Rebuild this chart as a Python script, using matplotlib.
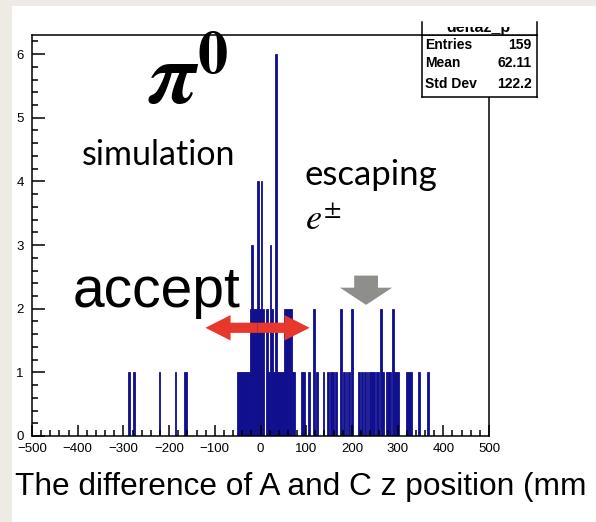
import matplotlib
matplotlib.use("Agg")
import matplotlib.pyplot as plt
from matplotlib.patches import FancyArrow, Rectangle
from matplotlib.ticker import MultipleLocator
from matplotlib.transforms import Bbox

# histogram of z(A) - z(C), bin centres in mm and counts
bin_z = [-287, -276, -221, -186, -166, -162,
         -50, -46, -42, -38, -34, -30, -26, -22, -18, -14, -10, -6, -2, 2, 6,
         14, 18, 22, 26, 30, 34, 38, 42, 46, 50, 54, 58, 62, 66, 70, 74,
         90, 96, 106, 117, 124, 138, 148, 155, 158, 165, 176, 183, 188, 193,
         200, 216, 222, 229, 234, 239, 244, 248, 254, 258, 263, 268, 276, 280,
         284, 290, 294, 298, 302, 320, 325, 330, 347, 366]
bin_n = [1, 1, 1, 1, 1, 1,
         1, 1, 1, 1, 1, 1, 1, 2, 3, 2, 2, 4, 2, 4, 2,
         2, 1, 3, 2, 1, 6, 1, 1, 1, 1, 2, 2, 2, 2, 1, 1,
         1, 1, 1, 2, 1, 1, 1, 1, 1, 1, 2, 1, 1, 1,
         2, 1, 1, 1, 1, 1, 1, 1, 1, 1, 2, 1, 1, 1,
         1, 2, 1, 1, 1, 1, 1, 1, 1, 1]
bin_width = 4

stat_names = ["Entries", "Mean", "Std Dev"]
stat_values = ["159", "62.11", "122.2"]
hist_name = "deltaz_p"

W, H = 596, 522
def fx(x):
    return x / W
def fy(y):
    return 1 - y / H

beige = "#eeebe4"
navy = "#10108f"

fig = plt.figure(figsize=(W / 100, H / 100), dpi=100, facecolor=beige)
fig.patches.append(Rectangle((fx(12), 0), 1 - fx(12), fy(6), transform=fig.transFigure,
                             facecolor="white", edgecolor="none", zorder=-1))

ax = fig.add_axes([fx(32), fy(436), fx(489) - fx(32), fy(35) - fy(436)])
ax.bar(bin_z, bin_n, width=bin_width, color=navy, edgecolor=navy, linewidth=0.6)
ax.set_xlim(-500, 500)
ax.set_ylim(0, 6.3)
ax.xaxis.set_major_locator(MultipleLocator(100))
ax.xaxis.set_minor_locator(MultipleLocator(20))
ax.yaxis.set_major_locator(MultipleLocator(1))
ax.yaxis.set_minor_locator(MultipleLocator(0.2))
ax.tick_params(which="both", direction="in", top=False, right=False, width=1.1,
               labelsize=9.5, labelfontfamily="Liberation Sans")
ax.tick_params(axis="x", which="major", length=8, pad=5)
ax.tick_params(axis="x", which="minor", length=4)
ax.tick_params(axis="y", which="major", length=9, pad=6)
ax.tick_params(axis="y", which="minor", length=4.5)
for s in ax.spines.values():
    s.set_linewidth(1.1)

# accept range (red double arrow) and escaping marker (grey arrow)
red = "#e8382b"
for dx in (-114, 114):
    ax.add_patch(FancyArrow(-6.5, 1.70, dx, 0, width=0.16, head_width=0.40,
                            head_length=55, length_includes_head=True,
                            color=red, linewidth=0, zorder=5))
ax.add_patch(FancyArrow(231, 2.52, 0, -0.46, width=52, head_width=114,
                        head_length=0.27, length_includes_head=True,
                        color="#8e8e8a", linewidth=0, zorder=5))

# stats box
sbox = fig.add_axes([fx(422), fy(97), fx(537) - fx(422), fy(35) - fy(97)], facecolor="white")
sbox.set_xticks([])
sbox.set_yticks([])
for s in sbox.spines.values():
    s.set_linewidth(1.1)
for i, (n, v) in enumerate(zip(stat_names, stat_values)):
    yy = [0.84, 0.55, 0.21][i]
    sbox.text(0.03, yy, n, fontsize=10, fontweight="bold", family="Liberation Sans",
              va="center", ha="left")
    sbox.text(0.95, yy, v, fontsize=10, fontweight="bold", family="Liberation Sans",
              va="center", ha="right")

tbox = fig.add_axes([fx(422), fy(35), fx(537) - fx(422), fy(22) - fy(35)], facecolor="white")
tbox.set_xticks([])
tbox.set_yticks([])
tbox.spines["top"].set_visible(False)
for s in tbox.spines.values():
    s.set_linewidth(1.1)
t = fig.text(fx(478), fy(32), hist_name, fontsize=11.5, fontweight="bold",
             family="Liberation Sans", ha="center", va="baseline")
t.set_clip_box(Bbox([[0, 0], [W, H - 27]]))
t.set_clip_on(True)

# annotations
plt.rcParams["mathtext.fontset"] = "stix"
fig.text(fx(148), fy(104), r"$\boldsymbol{\pi}^{\mathbf{0}}$", fontsize=62,
         ha="left", va="baseline")
fig.text(fx(82), fy(165), "simulation", fontsize=24.5, family="Lato",
         ha="left", va="baseline")
fig.text(fx(305), fy(185), "escaping", fontsize=25, family="Lato",
         ha="left", va="baseline")
fig.text(fx(305), fy(230), r"$e^{\pm}$", fontsize=26, ha="left", va="baseline")
fig.text(fx(73), fy(307), "accept", fontsize=41, family="Liberation Sans",
         ha="left", va="baseline")
fig.text(fx(15), fy(495), "The difference of A and C z position (mm", fontsize=22.8,
         family="Liberation Sans", ha="left", va="baseline")

fig.savefig("out.png", dpi=100, facecolor=beige)
